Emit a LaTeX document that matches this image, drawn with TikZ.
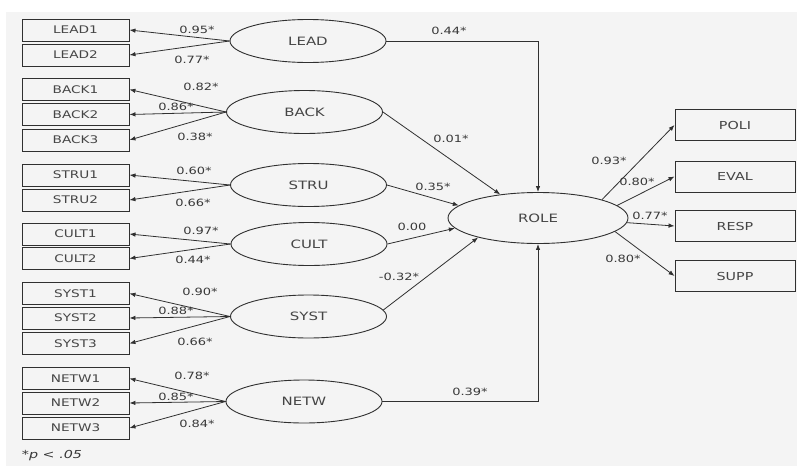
\documentclass[tikz,border=0pt]{standalone}
\usepackage{fontspec}
\setmainfont{DejaVu Sans}[FakeStretch=1.3]
\usetikzlibrary{shapes.geometric,arrows.meta}
\definecolor{bgc}{HTML}{F4F4F4}
\definecolor{linec}{HTML}{303030}
\definecolor{txtc}{HTML}{454545}
\definecolor{labc}{HTML}{383838}
\tikzset{
  obs/.style={draw=linec, line width=0.9pt, minimum width=107pt, minimum height=22pt, inner sep=0pt, text=txtc, font=\fontsize{10.5}{12}\selectfont},
  obsr/.style={obs, minimum width=120pt, minimum height=31pt, font=\fontsize{11}{13}\selectfont},
  lat/.style={ellipse, draw=linec, line width=0.9pt, minimum width=156pt, minimum height=43pt, inner sep=0pt, text=txtc, font=\fontsize{11.5}{13}\selectfont},
  coef/.style={inner sep=0pt, text=labc, font=\fontsize{10}{12}\selectfont},
  arr/.style={draw=linec, line width=0.8pt, -{Latex[length=6pt,width=4.5pt]}}
}
\begin{document}
\begin{tikzpicture}[x=1pt,y=-1pt]
\useasboundingbox (0,0) rectangle (797,466);
\fill[white] (0,0) rectangle (797,466);
\fill[bgc] (6,12) rectangle (797,466);
% observed indicators (left)
\node[obs] (L1) at (75.5,30) {LEAD1};
\node[obs] (L2) at (75.5,55) {LEAD2};
\node[obs] (B1) at (75.5,89.5) {BACK1};
\node[obs] (B2) at (75.5,114.5) {BACK2};
\node[obs] (B3) at (75.5,140) {BACK3};
\node[obs] (S1) at (75.5,175) {STRU1};
\node[obs] (S2) at (75.5,200) {STRU2};
\node[obs] (C1) at (75.5,234) {CULT1};
\node[obs] (C2) at (75.5,258.5) {CULT2};
\node[obs] (Y1) at (75.5,293.5) {SYST1};
\node[obs] (Y2) at (75.5,318) {SYST2};
\node[obs] (Y3) at (75.5,343.5) {SYST3};
\node[obs] (N1) at (75.5,378.5) {NETW1};
\node[obs] (N2) at (75.5,403) {NETW2};
\node[obs] (N3) at (75.5,428) {NETW3};
% latent variables
\node[lat] (LEAD) at (308,41) {LEAD};
\node[lat] (BACK) at (304.5,112) {BACK};
\node[lat] (STRU) at (308.5,185) {STRU};
\node[lat] (CULT) at (309,244) {CULT};
\node[lat] (SYST) at (308.5,316.5) {SYST};
\node[lat] (NETW) at (304,401.5) {NETW};
\node[lat, minimum width=180pt, minimum height=51pt] (ROLE) at (538,218) {ROLE};
% observed indicators (right)
\node[obsr] (POLI) at (735,125) {POLI};
\node[obsr] (EVAL) at (735,176.5) {EVAL};
\node[obsr] (RESP) at (735,226) {RESP};
\node[obsr] (SUPP) at (735,276) {SUPP};
% loadings
\draw[arr] (LEAD.west) -- (L1.east);
\draw[arr] (LEAD.west) -- (L2.east);
\draw[arr] (BACK.west) -- (B1.east);
\draw[arr] (BACK.west) -- (B2.east);
\draw[arr] (BACK.west) -- (B3.east);
\draw[arr] (STRU.west) -- (S1.east);
\draw[arr] (STRU.west) -- (S2.east);
\draw[arr] (CULT.west) -- (C1.east);
\draw[arr] (CULT.west) -- (C2.east);
\draw[arr] (SYST.west) -- (Y1.east);
\draw[arr] (SYST.west) -- (Y2.east);
\draw[arr] (SYST.west) -- (Y3.east);
\draw[arr] (NETW.west) -- (N1.east);
\draw[arr] (NETW.west) -- (N2.east);
\draw[arr] (NETW.west) -- (N3.east);
% structural paths
\draw[arr] (LEAD.east) -| (ROLE.north);
\draw[arr] (BACK.east) -- (ROLE.148);
\draw[arr] (STRU.east) -- (ROLE.171);
\draw[arr] (CULT.east) -- (ROLE.187);
\draw[arr] (SYST.5) -- (ROLE.198);
\draw[arr] (NETW.east) -| (ROLE.south);
\draw[arr] (ROLE.16) -- (POLI.west);
\draw[arr] (ROLE.9) -- (EVAL.west);
\draw[arr] (ROLE.-3) -- (RESP.west);
\draw[arr] (ROLE.-10) -- (SUPP.west);
% coefficient labels
\node[coef] (cL1) at (197,30) {0.95*};
\node[coef] (cL2) at (192,60) {0.77*};
\node[coef] (cB1) at (201,87) {0.82*};
\node[coef] (cB2) at (176,107) {0.86*};
\node[coef] (cB3) at (195,137) {0.38*};
\node[coef] (cS1) at (194,171) {0.60*};
\node[coef] (cS2) at (193,203) {0.66*};
\node[coef] (cC1) at (201,231) {0.97*};
\node[coef] (cC2) at (193,260) {0.44*};
\node[coef] (cY1) at (200,292) {0.90*};
\node[coef] (cY2) at (176,311) {0.88*};
\node[coef] (cY3) at (195,342) {0.66*};
\node[coef] (cN1) at (192,376) {0.78*};
\node[coef] (cN2) at (176,397) {0.85*};
\node[coef] (cN3) at (197,424) {0.84*};
\node[coef] (pLEAD) at (449,31) {0.44*};
\node[coef] (pBACK) at (451,139) {0.01*};
\node[coef] (pSTRU) at (433,187) {0.35*};
\node[coef] (pCULT) at (412,227) {0.00};
\node[coef] (pSYST) at (399,277) {-0.32*};
\node[coef] (pNETW) at (470,392) {0.39*};
\node[coef] (rPOLI) at (609,161) {0.93*};
\node[coef] (rEVAL) at (637,182) {0.80*};
\node[coef] (rRESP) at (650,216) {0.77*};
\node[coef] (rSUPP) at (623,259) {0.80*};
\node[coef, font=\fontsize{11}{13}\selectfont\itshape] (note) at (52,456) {*p < .05};
\end{tikzpicture}
\end{document}
